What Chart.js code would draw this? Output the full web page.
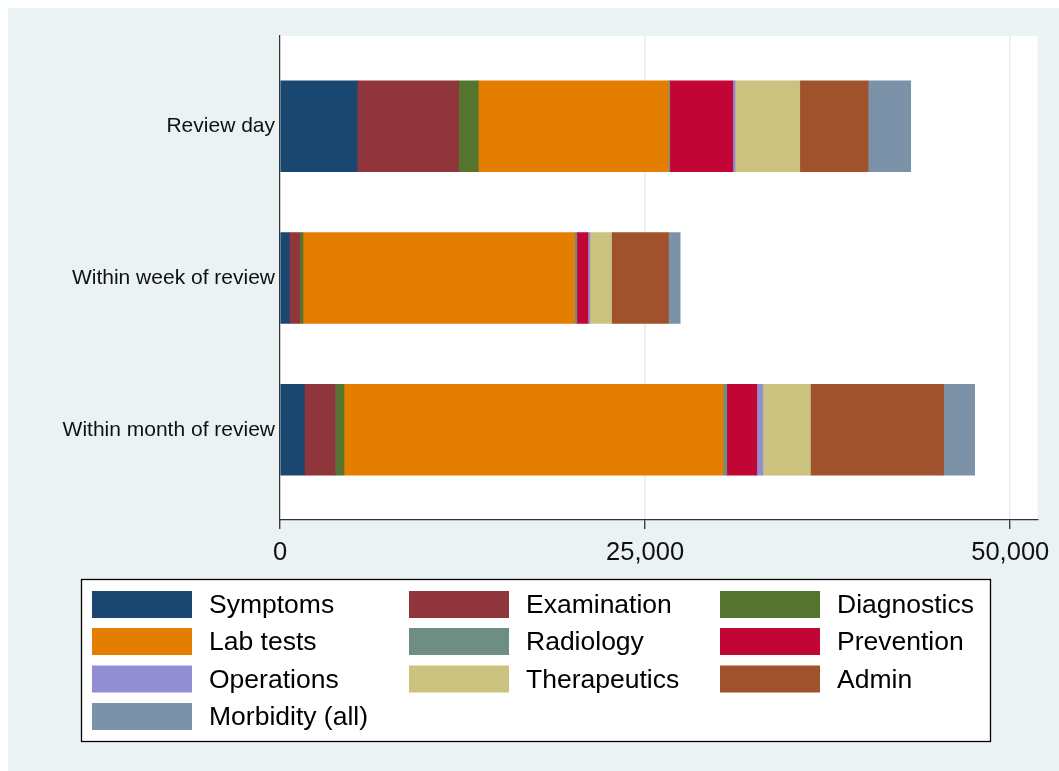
<!DOCTYPE html>
<html>
<head>
<meta charset="utf-8">
<script src="https://cdn.jsdelivr.net/npm/chart.js@4.4.1/dist/chart.umd.min.js"></script>
<style>
  html, body { margin: 0; padding: 0; background: #fff; overflow: hidden; }
  canvas { display: block; }
</style>
</head>
<body>
<canvas id="myChart" width="1059" height="771"></canvas>
<script>
const categories = ['Review day', 'Within week of review', 'Within month of review'];
const seriesNames = ['Symptoms', 'Examination', 'Diagnostics', 'Lab tests', 'Radiology',
    'Prevention', 'Operations', 'Therapeutics', 'Admin', 'Morbidity (all)'];
const symptoms = [5290, 640, 1665];
const examination = [6940, 705, 2100];
const diagnostics = [1345, 230, 615];
const labTests = [13025, 18595, 25960];
const radiology = [90, 155, 250];
const prevention = [4310, 755, 2055];
const operations = [160, 135, 410];
const therapeutics = [4430, 1485, 3265];
const admin = [4675, 3900, 9125];
const morbidity = [2920, 800, 2120];
const xTicks = [0, 25000, 50000];

const colours = ['#1a476f', '#90353b', '#55752f', '#e37e00', '#6e8e84',
    '#c10534', '#938dd2', '#cac27e', '#a0522d', '#7b92a8'];
const allSeries = [symptoms, examination, diagnostics, labTests, radiology,
    prevention, operations, therapeutics, admin, morbidity];

const FONT = '"Liberation Sans", Arial, Helvetica, sans-serif';

const datasets = seriesNames.map((name, k) => ({
    label: name,
    backgroundColor: colours[k],
    borderWidth: 0,
    barThickness: 91,
    data: categories.map((c, i) => ({ x: allSeries[k][i], y: i }))
}));

// stata style backdrop and legend grid
const stataLook = {
    id: 'stataLook',
    beforeDraw(chart) {
        const ctx = chart.ctx;
        const a = chart.chartArea;
        ctx.save();
        ctx.fillStyle = '#ffffff';
        ctx.fillRect(0, 0, chart.width, chart.height);
        ctx.fillStyle = '#eaf2f3';
        ctx.fillRect(8, 8, chart.width - 8, chart.height - 8);
        ctx.fillStyle = '#ffffff';
        ctx.fillRect(a.left, a.top, a.right - a.left, a.bottom - a.top);
        ctx.restore();
    },
    afterDraw(chart) {
        const ctx = chart.ctx;
        ctx.save();
        ctx.fillStyle = '#ffffff';
        ctx.fillRect(81, 579, 910, 163);
        ctx.strokeStyle = '#000000';
        ctx.lineWidth = 1.3;
        ctx.strokeRect(81.5, 579.5, 909, 162);
        const colX = [92, 409, 720];
        const rowY = [591, 628, 665.5, 703];
        ctx.font = '26.5px ' + FONT;
        ctx.textBaseline = 'middle';
        ctx.textAlign = 'left';
        chart.data.datasets.forEach((ds, k) => {
            const x = colX[k % 3];
            const y = rowY[Math.floor(k / 3)];
            ctx.fillStyle = ds.backgroundColor;
            ctx.fillRect(x, y, 100, 27);
            ctx.fillStyle = '#000000';
            ctx.fillText(ds.label, x + 117, y + 15);
        });
        ctx.restore();
    }
};

const config = {
    type: 'bar',
    data: { datasets: datasets },
    options: {
        indexAxis: 'y',
        responsive: false,
        animation: false,
        layout: { padding: { top: 36, right: 21, bottom: 191, left: 0 } },
        plugins: {
            legend: { display: false },
            tooltip: { enabled: false }
        },
        scales: {
            x: {
                type: 'linear',
                stacked: true,
                min: 0,
                max: 51875,
                afterBuildTicks: s => { s.ticks = xTicks.map(v => ({ value: v })); },
                afterFit: s => { s.height = 60; },
                grid: { color: '#e3edef', lineWidth: 1.5, tickColor: '#222222', tickLength: 9, tickWidth: 1.2 },
                border: { display: true, color: '#333333', width: 1.2 },
                ticks: {
                    font: { family: FONT, size: 25.5 },
                    color: '#111111',
                    padding: 9,
                    maxRotation: 0,
                    callback: v => v.toLocaleString('en-US')
                }
            },
            y: {
                type: 'linear',
                stacked: true,
                reverse: true,
                offset: false,
                min: -0.595,
                max: 2.595,
                afterBuildTicks: s => { s.ticks = categories.map((c, i) => ({ value: i })); },
                afterFit: s => { s.width = 280; },
                grid: { display: false, drawTicks: false, offset: false },
                border: { display: true, color: '#333333', width: 1.2 },
                ticks: {
                    font: { family: FONT, size: 21 },
                    color: '#111111',
                    padding: 5,
                    callback: v => categories[v] ?? ''
                }
            }
        }
    },
    plugins: [stataLook]
};

const myChart = new Chart(document.getElementById('myChart'), config);
</script>
</body>
</html>
